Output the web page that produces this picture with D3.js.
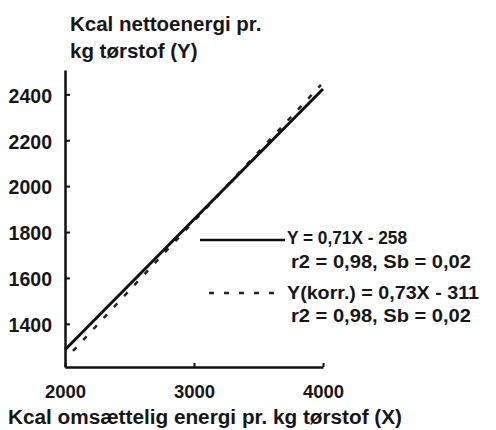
<!DOCTYPE html>
<html>
<head>
<meta charset="utf-8">
<script src="https://cdn.jsdelivr.net/npm/d3@7"></script>
<style>
  body { margin: 0; background: #fff; }
  text { font-family: "Liberation Sans", Arial, sans-serif; font-weight: bold; fill: #161616; }
</style>
</head>
<body>
<div id="chart"></div>
<script>
// tick labels
var xTicks = [2000, 3000, 4000];
var yTicks = [1400, 1600, 1800, 2000, 2200, 2400];

// regression lines (x in kcal ME, y in kcal NE)
var solidX = [2000, 4000];
var solidY = [1287, 2423];
var dashX = [2062, 3984];
var dashY = [1282, 2441];

var legendText = [
  ["Y = 0,71X - 258", "r2 = 0,98, Sb = 0,02"],
  ["Y(korr.) = 0,73X - 311", "r2 = 0,98, Sb = 0,02"]
];

var svg = d3.select("#chart").append("svg")
  .attr("width", 496).attr("height", 430);

var x = d3.scaleLinear().domain([2000, 4000]).range([65, 323]);
var y = d3.scaleLinear().domain([1212, 2506]).range([367, 70]);

// y axis, ticks pointing inward
var yAxis = svg.append("g")
  .attr("transform", "translate(65,0)")
  .call(d3.axisLeft(y).tickValues(yTicks).tickFormat(d3.format("d"))
    .tickSizeInner(-5).tickSizeOuter(0).tickPadding(13));
yAxis.selectAll("text").style("font-size", "19.5px").attr("dy", "0.4em");

// x axis, ticks pointing up
var xAxis = svg.append("g")
  .attr("transform", "translate(0,367)")
  .call(d3.axisBottom(x).tickValues(xTicks).tickFormat(d3.format("d"))
    .tickSizeInner(-4).tickSizeOuter(0).tickPadding(18));
xAxis.selectAll("text").style("font-size", "18.5px");

svg.selectAll(".domain").attr("stroke", "#111").attr("stroke-width", 2.5);
svg.selectAll(".tick line").attr("stroke", "#111").attr("stroke-width", 2);

var line = d3.line()
  .x(function(d) { return x(d[0]); })
  .y(function(d) { return y(d[1]); });

svg.append("path")
  .datum(d3.zip(dashX, dashY))
  .attr("d", line)
  .attr("fill", "none")
  .attr("stroke", "#222")
  .attr("stroke-width", 2.5)
  .attr("stroke-dasharray", "5,10");

svg.append("path")
  .datum(d3.zip(solidX, solidY))
  .attr("d", line)
  .attr("fill", "none")
  .attr("stroke", "#111")
  .attr("stroke-width", 3);

// axis titles
svg.append("text").attr("x", 70).attr("y", 31)
  .style("font-size", "20.5px")
  .text("Kcal nettoenergi pr.");
svg.append("text").attr("x", 70).attr("y", 58)
  .style("font-size", "20.5px")
  .text("kg tørstof (Y)");
svg.append("text").attr("x", 8).attr("y", 424)
  .style("font-size", "20px").attr("textLength", 394).attr("lengthAdjust", "spacingAndGlyphs")
  .text("Kcal omsættelig energi pr. kg tørstof (X)");

// legend
svg.append("line").attr("x1", 200).attr("x2", 285).attr("y1", 240).attr("y2", 240)
  .attr("stroke", "#111").attr("stroke-width", 2.5);
svg.append("line").attr("x1", 209).attr("x2", 282).attr("y1", 293).attr("y2", 293)
  .attr("stroke", "#222").attr("stroke-width", 2.5).attr("stroke-dasharray", "5,10");

var legRows = [
  { t: legendText[0][0], x: 287, y: 244, w: 120 },
  { t: legendText[0][1], x: 291, y: 268, w: 180 },
  { t: legendText[1][0], x: 287, y: 299, w: 192 },
  { t: legendText[1][1], x: 291, y: 322, w: 180 }
];
svg.selectAll(".leg").data(legRows).enter().append("text")
  .attr("class", "leg")
  .attr("x", function(d) { return d.x; })
  .attr("y", function(d) { return d.y; })
  .attr("textLength", function(d) { return d.w; })
  .attr("lengthAdjust", "spacingAndGlyphs")
  .style("font-size", "19px")
  .text(function(d) { return d.t; });
</script>
</body>
</html>
